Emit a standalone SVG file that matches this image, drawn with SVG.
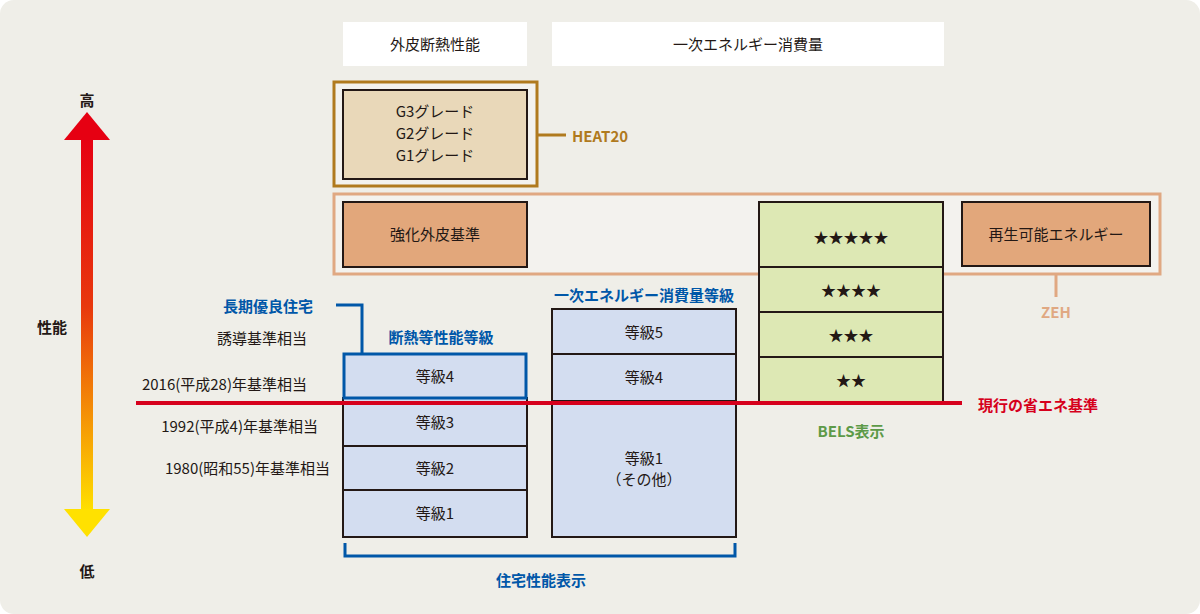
<svg xmlns="http://www.w3.org/2000/svg" width="1200" height="614" viewBox="0 0 1200 614">
<defs>
<linearGradient id="g" x1="0" y1="0" x2="0" y2="1"><stop offset="0" stop-color="#e60012"/><stop offset="0.45" stop-color="#e8380d"/><stop offset="1" stop-color="#ffe100"/></linearGradient>
</defs>
<style>
text{font-family:"Noto Sans CJK JP","Noto Sans",sans-serif;text-anchor:middle;fill:#231815;font-size:15px}
.k{stroke:#231815;stroke-width:2}
.b{fill:#d3ddf0}.gr{fill:#dde8b4}.o{fill:#e2a77b}
.blue{fill:#0057a8;font-weight:bold}
.r{text-anchor:end}
</style>
<rect x="0" y="0" width="1200" height="614" rx="14" fill="#efeee8"/>
<g id="axis">
<rect x="81" y="138" width="12" height="374" fill="url(#g)"/>
<polygon points="87,112 110,140 64,140" fill="#e60012"/>
<polygon points="87,537 110,509 64,509" fill="#ffe100"/>
<text x="87" y="106" font-size="28" font-weight="bold">高</text>
<text x="87" y="577" font-size="28" font-weight="bold">低</text>
<text x="52" y="333" font-size="17" font-weight="bold">性能</text>
</g>
<g id="headers">
<rect x="343" y="22" width="184" height="44" fill="#fff"/><text x="435" y="50">外皮断熱性能</text>
<rect x="552" y="22" width="392" height="44" fill="#fff"/><text x="748" y="50">一次エネルギー消費量</text>
</g>
<g id="heat20">
<rect x="334" y="82" width="203" height="104" fill="#f3f2ee" stroke="#b07a1e" stroke-width="3"/>
<rect x="343" y="90" width="184" height="89" fill="#e9d8b9" class="k"/>
<text x="435" y="117">G3グレード</text><text x="435" y="139">G2グレード</text><text x="435" y="161">G1グレード</text>
<text x="572" y="142" font-size="18" font-weight="bold" style="fill:#b07a1e;text-anchor:start">HEAT20</text>
</g>
<g id="zeh">
<rect x="334" y="194" width="826" height="80" fill="#f3f2ee" stroke="#e0a882" stroke-width="3"/>
<rect x="343" y="202" width="184" height="65" class="o k"/><text x="435" y="240">強化外皮基準</text>
<rect x="962" y="202" width="188" height="64" class="o k"/><text x="1056" y="240">再生可能エネルギー</text>
<text x="1056" y="318" font-size="18" font-weight="bold" style="fill:#e0a882">ZEH</text>
</g>
<g id="bels">
<rect x="759" y="202" width="184" height="65" class="gr k"/><text x="851" y="243">★★★★★</text>
<rect x="759" y="267" width="184" height="45" class="gr k"/><text x="851" y="296">★★★★</text>
<rect x="759" y="312" width="184" height="45" class="gr k"/><text x="851" y="341">★★★</text>
<rect x="759" y="357" width="184" height="45" class="gr k"/><text x="851" y="386">★★</text>
<text x="851" y="437" font-size="18" font-weight="bold" style="fill:#5d9a48">BELS表示</text>
</g>
<g id="dannetsu">
<rect x="343" y="398" width="184" height="48" class="b k"/><text x="435" y="428">等級3</text>
<rect x="343" y="446" width="184" height="44" class="b k"/><text x="435" y="474">等級2</text>
<rect x="343" y="490" width="184" height="47" class="b k"/><text x="435" y="519">等級1</text>
<rect x="344" y="354" width="182" height="44" class="b" stroke="#0057a8" stroke-width="3"/><text x="435" y="382">等級4</text>
<text x="441" y="343" class="blue" font-size="14">断熱等性能等級</text>
</g>
<g id="energy">
<rect x="552" y="309" width="184" height="45" class="b k"/><text x="644" y="338">等級5</text>
<rect x="552" y="354" width="184" height="47" class="b k"/><text x="644" y="383">等級4</text>
<rect x="552" y="401" width="184" height="136" class="b k"/><text x="644" y="464">等級1</text><text x="644" y="485">（その他）</text>
<text x="644" y="301" class="blue" font-size="14">一次エネルギー消費量等級</text>
</g>
<g id="labels">
<text x="268" y="312" class="blue" font-size="20">長期優良住宅</text>
<text x="262" y="344" font-size="14">誘導基準相当</text>
<text x="307" y="390" class="r" font-size="14">2016(平成28)年基準相当</text>
<text x="318" y="432" class="r" font-size="14">1992(平成4)年基準相当</text>
<text x="330" y="474" class="r" font-size="14">1980(昭和55)年基準相当</text>
<text x="978" y="411" font-size="18" font-weight="bold" style="fill:#d6001c;text-anchor:start">現行の省エネ基準</text>
<text x="541" y="586" class="blue" font-size="18">住宅性能表示</text>
</g>
<g id="connectors" fill="none">
<line x1="537" y1="135" x2="566" y2="135" stroke="#b07a1e" stroke-width="3"/>
<line x1="1056" y1="274" x2="1056" y2="297" stroke="#e0a882" stroke-width="3"/>
<polyline points="336,305 362,305 362,354" stroke="#0057a8" stroke-width="3"/>
<line x1="136" y1="403" x2="962" y2="403" stroke="#d6001c" stroke-width="4"/>
<polyline points="345,543 345,556 735,556 735,543" stroke="#0057a8" stroke-width="3"/>
</g>
</svg>
